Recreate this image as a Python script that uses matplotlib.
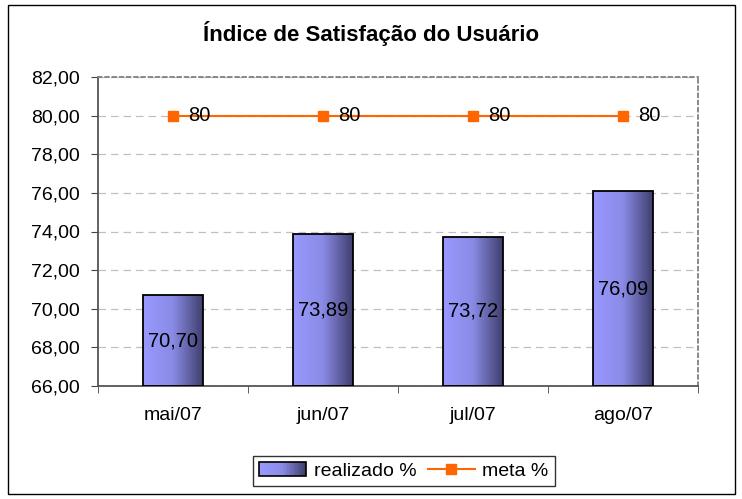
import numpy as np
import matplotlib.pyplot as plt
from matplotlib.colors import LinearSegmentedColormap
from matplotlib.patches import Rectangle
from matplotlib.lines import Line2D
from matplotlib.legend_handler import HandlerBase

# dados do gráfico
meses = ["mai/07", "jun/07", "jul/07", "ago/07"]
realizado = [70.70, 73.89, 73.72, 76.09]
meta = [80, 80, 80, 80]
yticks = [66, 68, 70, 72, 74, 76, 78, 80, 82]

plt.rcParams['font.family'] = ['Liberation Sans', 'DejaVu Sans']

cmap = LinearSegmentedColormap.from_list('barra', ['#9999ff', '#8a8ae6', '#3f3f6e'])


class HandlerGradiente(HandlerBase):
    # desenha a caixa da legenda com o mesmo degradê das barras
    def create_artists(self, legend, orig_handle, xdescent, ydescent,
                       width, height, fontsize, trans):
        n = 30
        artistas = []
        for k in range(n):
            r = Rectangle((-xdescent + width * k / n, -ydescent), width / n + 0.3,
                          height, facecolor=cmap(k / (n - 1)), edgecolor='none',
                          transform=trans)
            artistas.append(r)
        artistas.append(Rectangle((-xdescent, -ydescent), width, height,
                                  fill=False, edgecolor='black', linewidth=1.2,
                                  transform=trans))
        return artistas


fig = plt.figure(figsize=(7.42, 4.99), dpi=100)
ax = fig.add_axes([98 / 742, 1 - 386 / 499, 600 / 742, 309 / 499])

# moldura externa
fig.patches.append(Rectangle((8 / 742, 1 - 494 / 499), 727 / 742, 489 / 499,
                             transform=fig.transFigure, fill=False,
                             edgecolor='black', linewidth=1.0))

x = np.arange(len(meses))
largura = 0.4
grad = np.linspace(0, 1, 256).reshape(1, -1)

ax.set_xlim(-0.5, len(meses) - 0.5)
ax.set_ylim(66, 82)

for xi, v in zip(x, realizado):
    im = ax.imshow(grad, cmap=cmap, aspect='auto',
                   extent=(xi - largura / 2, xi + largura / 2, 66, v), zorder=2)
    rect = Rectangle((xi - largura / 2, 66), largura, v - 66, fill=False,
                     edgecolor='black', linewidth=1.3, zorder=3)
    ax.add_patch(rect)
    im.set_clip_path(rect)
    ax.text(xi, (66 + v) / 2, f"{v:.2f}".replace('.', ','), ha='center',
            va='center', fontsize=14.5, zorder=4)

ax.plot(x, meta, color='#ff6600', linewidth=1.5, marker='s', markersize=7,
        zorder=5)
for xi, m in zip(x, meta):
    ax.text(xi + 0.1, m, str(m), ha='left', va='center', fontsize=14.5, zorder=6)

ax.set_yticks(yticks)
ax.set_yticklabels([f"{t:.2f}".replace('.', ',') for t in yticks], fontsize=14)
ax.set_xticks(x)
ax.set_xticklabels(meses, fontsize=14)
ax.tick_params(axis='x', length=0, pad=15)
ax.set_xticks(np.arange(-0.5, len(meses)), minor=True)
ax.tick_params(axis='x', which='minor', length=5, color='#444444')
ax.tick_params(axis='y', length=5, color='#444444', pad=8)

ax.yaxis.grid(True, linestyle=(0, (6, 4)), color='#c0c0c0', linewidth=0.9)
ax.set_axisbelow(True)
for lado in ['top', 'right']:
    ax.spines[lado].set_linestyle((0, (2, 2)))
    ax.spines[lado].set_color('#808080')
    ax.spines[lado].set_linewidth(1.3)
for lado in ['left', 'bottom']:
    ax.spines[lado].set_linestyle((0, (3, 1)))
    ax.spines[lado].set_color('#555555')
    ax.spines[lado].set_linewidth(1.3)

fig.text(0.5, 1 - 33 / 499, "Índice de Satisfação do Usuário", ha='center',
         va='center', fontsize=16, fontweight='bold')

h_bar = Rectangle((0, 0), 1, 1)
h_line = Line2D([], [], color='#ff6600', marker='s', markersize=7, linewidth=1.5)
leg = fig.legend([h_bar, h_line], ["realizado %", "meta %"], ncol=2,
                 loc='center', bbox_to_anchor=(404 / 742, 1 - 471 / 499),
                 fontsize=14, frameon=True, fancybox=False, edgecolor='black',
                 handlelength=2.4, columnspacing=0.6, handletextpad=0.4,
                 borderpad=0.3, handler_map={Rectangle: HandlerGradiente()})
leg.get_frame().set_linewidth(1.0)

fig.savefig("out.png", dpi=100)
